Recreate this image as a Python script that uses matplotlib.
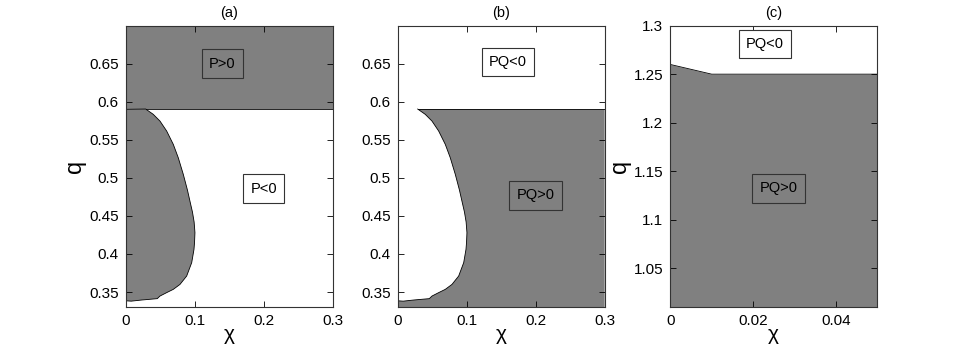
import numpy as np
import matplotlib.pyplot as plt
from matplotlib.ticker import FormatStrFormatter

plt.rcParams['font.family'] = ['Liberation Sans', 'DejaVu Sans']

# boundary of the region (a) and (b)
chi_curve = [0.029, 0.040, 0.0497, 0.0594, 0.069, 0.0762, 0.0835, 0.0895, 0.0935,
             0.0968, 0.0992, 0.1004, 0.0998, 0.099, 0.0957, 0.0884, 0.0787, 0.069,
             0.0594, 0.0497, 0.0458, 0.0232, 0.008, 0.0]
q_curve = [0.5904, 0.5834, 0.5746, 0.5615, 0.544, 0.5265, 0.5046, 0.484, 0.468,
           0.455, 0.442, 0.428, 0.415, 0.406, 0.3886, 0.371, 0.360, 0.3535,
           0.3492, 0.3447, 0.3413, 0.3395, 0.338, 0.3385]
q_top = 0.59

# boundary in panel (c)
chi_c = [0.0, 0.01, 0.05]
q_c = [1.26, 1.25, 1.25]

grey = '#808080'
xlim_ab = (0, 0.3)
ylim_ab = (0.33, 0.70)
xlim_c = (0, 0.05)
ylim_c = (1.01, 1.30)

fig = plt.figure(figsize=(9.69, 3.46), dpi=100)
ax_a = fig.add_axes([0.1297, 0.112, 0.2136, 0.814])
ax_b = fig.add_axes([0.4104, 0.112, 0.2136, 0.814])
ax_c = fig.add_axes([0.6917, 0.112, 0.2136, 0.814])

def label_box(ax, x, y, s, fc):
    ax.text(x, y, s, ha='center', va='center', fontsize=10.5,
            bbox=dict(boxstyle='square,pad=0.5', fc=fc, ec='#333333', lw=0.8))

# (a)
ax_a.fill([0, xlim_ab[1], xlim_ab[1], 0], [q_top, q_top, ylim_ab[1], ylim_ab[1]],
          color=grey, lw=0)
ax_a.plot([chi_curve[0], xlim_ab[1]], [q_top, q_top], color='k', lw=0.6)
ax_a.fill([0] + chi_curve, [q_top] + q_curve, fc=grey, ec='k', lw=0.6)
label_box(ax_a, 0.14, 0.65, 'P>0', grey)
label_box(ax_a, 0.20, 0.486, 'P<0', 'white')
ax_a.set_xlim(*xlim_ab)
ax_a.set_ylim(*ylim_ab)
ax_a.set_xticks([0, 0.1, 0.2, 0.3])
ax_a.set_yticks([0.35, 0.4, 0.45, 0.5, 0.55, 0.6, 0.65])
ax_a.set_title('(a)', fontsize=10.5, pad=6)
ax_a.set_ylabel('q', fontsize=17, labelpad=2)

# (b)
xs = chi_curve + [0, xlim_ab[1], xlim_ab[1]]
ys = q_curve + [ylim_ab[0], ylim_ab[0], q_top]
ax_b.fill(xs, ys, fc=grey, ec='none')
ax_b.plot(chi_curve, q_curve, color='k', lw=0.6)
ax_b.plot([chi_curve[0], xlim_ab[1]], [q_top, q_top], color='k', lw=0.6)
label_box(ax_b, 0.16, 0.652, 'PQ<0', 'white')
label_box(ax_b, 0.20, 0.477, 'PQ>0', grey)
ax_b.set_xlim(*xlim_ab)
ax_b.set_ylim(*ylim_ab)
ax_b.set_xticks([0, 0.1, 0.2, 0.3])
ax_b.set_yticks([0.35, 0.4, 0.45, 0.5, 0.55, 0.6, 0.65])
ax_b.set_title('(b)', fontsize=10.5, pad=6)

# (c)
ax_c.fill_between(chi_c, ylim_c[0], q_c, color=grey, lw=0)
ax_c.plot(chi_c, q_c, color='k', lw=0.6)
label_box(ax_c, 0.0229, 1.281, 'PQ<0', 'white')
label_box(ax_c, 0.0261, 1.1324, 'PQ>0', grey)
ax_c.set_xlim(*xlim_c)
ax_c.set_ylim(*ylim_c)
ax_c.set_xticks([0, 0.02, 0.04])
ax_c.set_yticks([1.05, 1.1, 1.15, 1.2, 1.25, 1.3])
ax_c.set_title('(c)', fontsize=10.5, pad=6)
ax_c.set_ylabel('q', fontsize=17, labelpad=2)

for ax in (ax_a, ax_b, ax_c):
    ax.xaxis.set_major_formatter(FormatStrFormatter('%g'))
    ax.yaxis.set_major_formatter(FormatStrFormatter('%g'))
    ax.tick_params(direction='in', top=True, right=True, length=4.5,
                   width=0.6, labelsize=11, pad=5)
    ax.set_xlabel('χ', fontsize=15, labelpad=-2)
    for sp in ax.spines.values():
        sp.set_linewidth(0.8)
        sp.set_color('#333333')

fig.savefig('out.png', dpi=100)
